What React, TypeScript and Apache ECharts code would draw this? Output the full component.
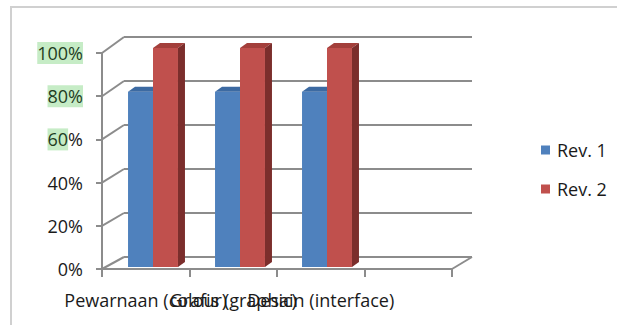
import React, { useEffect, useRef } from "react";
import * as echarts from "echarts";

const categories = ["Pewarnaan (colour)", "Grafis (graphic)", "Desain (interface)", ""];
const seriesNames = ["Rev. 1", "Rev. 2"];
const rev1 = [0.8, 0.8, 0.8];
const rev2 = [1.0, 1.0, 1.0];
const yTicks = [0, 0.2, 0.4, 0.6, 0.8, 1.0];
const yTickLabels = ["0%", "20%", "40%", "60%", "80%", "100%"];
// part of each tick label that is highlighted (green marker) in the reference
const yTickHighlight = ["", "", "", "60", "80%", "100%"];

const FRONT = { left: 102, right: 452, top: 53, bottom: 269 };
const BACK = { left: 124, right: 472, top: 37, bottom: 257 };
const BARS = { left: 109.5, right: 457.5, top: 48, bottom: 267 };
const W = 617;
const H = 325;

const faceColors = [
  { front: "#4f81bd", top: "#3c6aa2", side: "#2f5583" },
  { front: "#c0504d", top: "#a33f3b", side: "#7b2e2c" },
];

const FONT = "'Open Sans', 'DejaVu Sans', sans-serif";

export default function App() {
  const ref = useRef<HTMLDivElement>(null);
  useEffect(() => {
    if (!ref.current) return;
    const chart = echarts.init(ref.current, null, { renderer: "svg" });
    const depthX = 7;
    const depthY = -5;
    const makeRender = (si: number) => (params: any, api: any) => {
      const cat = api.value(0);
      const val = api.value(1);
      const top = api.coord([cat, val]);
      const base = api.coord([cat, 0]);
      const slot = api.size([1, 0])[0];
      const w = slot * 0.287;
      const x0 = si === 0 ? top[0] - w : top[0];
      const x1 = x0 + w;
      const yt = top[1];
      const yb = base[1];
      const c = faceColors[si];
      return {
        type: "group",
        children: [
          {
            type: "rect",
            shape: { x: x0, y: yt, width: w, height: yb - yt },
            style: { fill: c.front },
          },
          {
            type: "polygon",
            shape: {
              points: [
                [x0, yt],
                [x1, yt],
                [x1 + depthX, yt + depthY],
                [x0 + depthX, yt + depthY],
              ],
            },
            style: { fill: c.top },
          },
          {
            type: "polygon",
            shape: {
              points: [
                [x1, yt],
                [x1 + depthX, yt + depthY],
                [x1 + depthX, yb + depthY],
                [x1, yb],
              ],
            },
            style: { fill: c.side },
          },
        ],
      };
    };

    const grey = "#8c8c8c";
    const option: any = {
      animation: false,
      textStyle: { fontFamily: FONT },
      grid: [
        { left: BACK.left, width: BACK.right - BACK.left, top: BACK.top, height: BACK.bottom - BACK.top },
        { left: FRONT.left, width: FRONT.right - FRONT.left, top: FRONT.top, height: FRONT.bottom - FRONT.top },
        { left: BARS.left, width: BARS.right - BARS.left, top: BARS.top, height: BARS.bottom - BARS.top },
      ],
      xAxis: [
        { gridIndex: 0, type: "category", data: categories, show: false },
        {
          gridIndex: 1,
          type: "category",
          data: categories,
          axisLine: { show: true, lineStyle: { color: grey, width: 2 } },
          axisTick: { show: true, interval: 0, length: 8, lineStyle: { color: grey, width: 2 } },
          axisLabel: {
            interval: 0,
            margin: 22,
            fontSize: 18,
            color: "#1a1a1a",
            fontFamily: FONT,
          },
          splitLine: { show: false },
        },
        { gridIndex: 2, type: "category", data: categories, show: false },
      ],
      yAxis: [
        {
          gridIndex: 0,
          type: "value",
          min: 0,
          max: 1,
          interval: 0.2,
          axisLine: { show: false },
          axisTick: { show: false },
          axisLabel: { show: false },
          splitLine: { show: true, lineStyle: { color: grey, width: 2 } },
        },
        {
          gridIndex: 1,
          type: "value",
          min: 0,
          max: 1,
          interval: 0.2,
          axisLine: { show: true, lineStyle: { color: grey, width: 2 } },
          axisTick: { show: true, length: 6, lineStyle: { color: grey, width: 2 } },
          splitLine: { show: false },
          axisLabel: {
            margin: 19,
            fontSize: 18,
            fontFamily: FONT,
            formatter: (v: number) => {
              const i = yTicks.findIndex((t) => Math.abs(t - v) < 1e-6);
              if (i < 0) return "";
              const lab = yTickLabels[i];
              const hl = yTickHighlight[i];
              if (!hl) return `{n|${lab}}`;
              const rest = lab.slice(hl.length);
              return rest ? `{h|${hl}}{n|${rest}}` : `{h|${hl}}`;
            },
            rich: {
              n: { color: "#1a1a1a", fontSize: 18, fontFamily: FONT, lineHeight: 22, padding: [2, 0, 2, 0] },
              h: {
                color: "#1f3d1f",
                fontSize: 18,
                fontFamily: FONT,
                lineHeight: 22,
                backgroundColor: "#c6ecc6",
                padding: [2, 0, 2, 0],
              },
            },
          },
        },
        { gridIndex: 2, type: "value", min: 0, max: 1, show: false },
      ],
      legend: {
        orient: "vertical",
        left: 536,
        top: 136,
        itemWidth: 9,
        itemHeight: 9,
        itemGap: 21,
        icon: "rect",
        textStyle: { fontSize: 18, color: "#1a1a1a", fontFamily: FONT, lineHeight: 18, padding: [0, 0, 0, 2] },
        data: seriesNames.map((n, i) => ({ name: n, icon: "rect", itemStyle: { color: faceColors[i].front } })),
      },
      series: [
        {
          name: seriesNames[0],
          type: "custom",
          xAxisIndex: 2,
          yAxisIndex: 2,
          itemStyle: { color: faceColors[0].front },
          renderItem: makeRender(0),
          encode: { x: 0, y: 1 },
          data: rev1.map((v, i) => [i, v]),
        },
        {
          name: seriesNames[1],
          type: "custom",
          xAxisIndex: 2,
          yAxisIndex: 2,
          itemStyle: { color: faceColors[1].front },
          renderItem: makeRender(1),
          encode: { x: 0, y: 1 },
          data: rev2.map((v, i) => [i, v]),
        },
      ],
    };
    chart.setOption(option);

    // 3D wall connectors: front axis ticks to back wall gridlines
    const lines: any[] = [];
    yTicks.forEach((t) => {
      const yf = chart.convertToPixel({ yAxisIndex: 1 } as any, t) as unknown as number;
      const yb = chart.convertToPixel({ yAxisIndex: 0 } as any, t) as unknown as number;
      lines.push({
        type: "line",
        z: 0,
        shape: { x1: FRONT.left, y1: yf, x2: BACK.left, y2: yb },
        style: { stroke: grey, lineWidth: 2 },
      });
    });
    const yf0 = chart.convertToPixel({ yAxisIndex: 1 } as any, 0) as unknown as number;
    const yb0 = chart.convertToPixel({ yAxisIndex: 0 } as any, 0) as unknown as number;
    lines.push({
      type: "line",
      z: 0,
      shape: { x1: FRONT.right, y1: yf0, x2: BACK.right, y2: yb0 },
      style: { stroke: grey, lineWidth: 2 },
    });
    lines.push({
      type: "rect",
      z: 0,
      shape: { x: 11, y: 7, width: W + 40, height: H + 40 },
      style: { fill: "none", stroke: "#d0d0d0", lineWidth: 2 },
    });
    chart.setOption({ graphic: lines });

    return () => chart.dispose();
  }, []);
  return (
    <div
      ref={ref}
      style={{ position: "fixed", left: 0, top: 0, width: W, height: H, background: "#ffffff" }}
    />
  );
}
